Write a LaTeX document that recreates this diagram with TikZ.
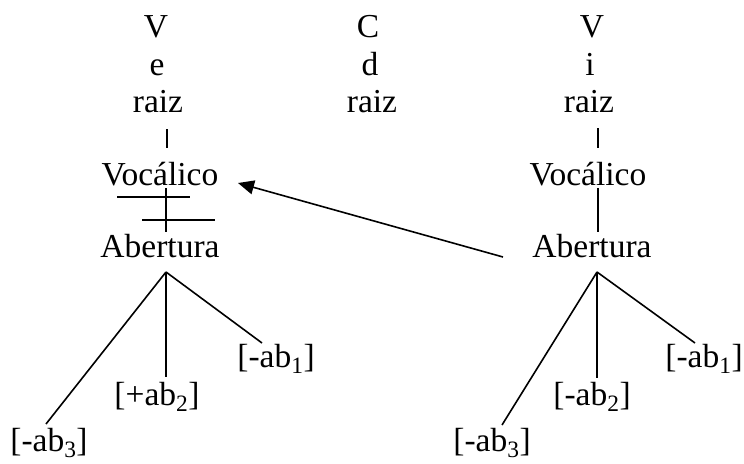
\documentclass[tikz,border=0pt]{standalone}
\usepackage{fontspec}
\setmainfont{Liberation Serif}
\usetikzlibrary{arrows.meta}
\begin{document}
\begin{tikzpicture}[x=1pt,y=-1pt,
  lbl/.style={font=\fontsize{33.5}{40}\selectfont, inner sep=0pt, anchor=base},
  ln/.style={line width=1.6pt}]
\useasboundingbox (0,0) rectangle (744,463);
% left column
\node[lbl] (V1) at (156,37) {V};
\node[lbl] (e1) at (157,75) {e};
\node[lbl] (r1) at (158,112) {raiz};
\node[lbl] (voc1) at (160,185) {Vocálico};
\node[lbl] (ab1) at (160,257) {Abertura};
\node[lbl] (l1a) at (276,367) {[-ab\textsubscript{1}]};
\node[lbl] (l1b) at (157,405) {[+ab\textsubscript{2}]};
\node[lbl] (l1c) at (49,451) {[-ab\textsubscript{3}]};
% middle column
\node[lbl] (C) at (368,37) {C};
\node[lbl] (d) at (370,75) {d};
\node[lbl] (r2) at (372,112) {raiz};
% right column
\node[lbl] (V3) at (592,37) {V};
\node[lbl] (i3) at (590,75) {i};
\node[lbl] (r3) at (589,112) {raiz};
\node[lbl] (voc3) at (588,185) {Vocálico};
\node[lbl] (ab3) at (592,257) {Abertura};
\node[lbl] (l3a) at (704,367) {[-ab\textsubscript{1}]};
\node[lbl] (l3b) at (592,405) {[-ab\textsubscript{2}]};
\node[lbl] (l3c) at (492,451) {[-ab\textsubscript{3}]};
% connector points
\coordinate (r1s) at (167,129);
\coordinate (voc1n) at (167,148);
\coordinate (voc1s) at (166,188);
\coordinate (ab1n) at (166,232);
\coordinate (ap1) at (166,272);
\coordinate (e1a) at (262,343);
\coordinate (e1b) at (166,377);
\coordinate (e1c) at (46,424);
\coordinate (r3s) at (598,128);
\coordinate (voc3n) at (598,148);
\coordinate (voc3s) at (598,188);
\coordinate (ab3n) at (598,232);
\coordinate (ap3) at (597,272);
\coordinate (e3a) at (695,343);
\coordinate (e3b) at (597,378);
\coordinate (e3c) at (502,425);
\coordinate (arrS) at (503,257);
\coordinate (arrE) at (238,183);
% left tree
\draw[ln] (r1s) -- (voc1n);
\draw[ln] (voc1s) -- (ab1n);
\draw[ln] (117,197) -- (190,197);
\draw[ln] (142,220) -- (215,220);
\draw[ln] (ap1) -- (e1a);
\draw[ln] (ap1) -- (e1b);
\draw[ln] (ap1) -- (e1c);
% right tree
\draw[ln] (r3s) -- (voc3n);
\draw[ln] (voc3s) -- (ab3n);
\draw[ln] (ap3) -- (e3a);
\draw[ln] (ap3) -- (e3b);
\draw[ln] (ap3) -- (e3c);
% arrow
\draw[ln,-{Triangle[length=16pt,width=14pt]}] (arrS) -- (arrE);
\end{tikzpicture}
\end{document}
